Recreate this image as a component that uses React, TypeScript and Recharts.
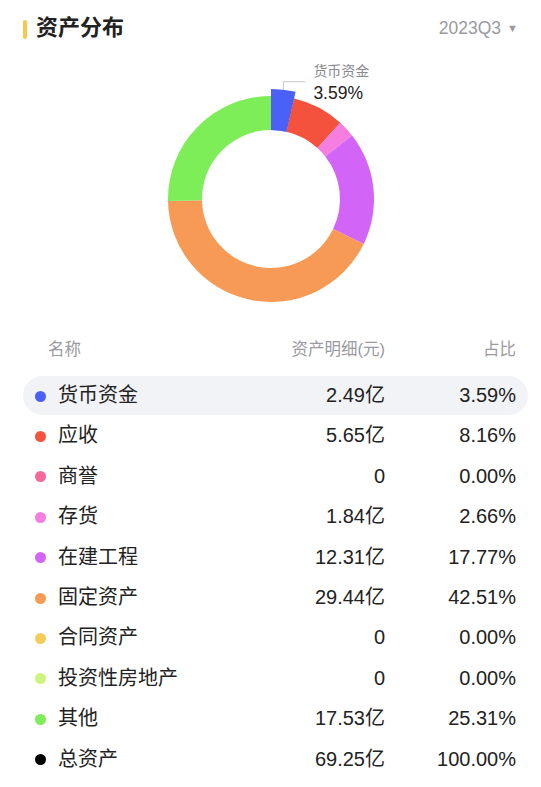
import React from 'react';
import { PieChart, Pie, Cell } from 'recharts';

const names = ['货币资金', '应收', '商誉', '存货', '在建工程', '固定资产', '合同资产', '投资性房地产', '其他', '总资产'];
const amounts = ['2.49亿', '5.65亿', '0', '1.84亿', '12.31亿', '29.44亿', '0', '0', '17.53亿', '69.25亿'];
const percents = [3.59, 8.16, 0, 2.66, 17.77, 42.51, 0, 0, 25.31, 100];
const colors = ['#4b60f7', '#f5523e', '#f5679a', '#f57ee0', '#d264f7', '#f79a55', '#f5cc5a', '#cdf57d', '#7ded58', '#000000'];

const quarter = '2023Q3';
const title = '资产分布';
const headers = ['名称', '资产明细(元)', '占比'];

const watermarks = [
  [410, 110], [80, 140], [330, 170], [400, 270], [90, 300],
  [190, 410], [460, 430], [80, 530], [300, 620], [470, 610], [390, 700], [160, 700],
];

const FONT = '"Liberation Sans", "Noto Sans CJK SC", sans-serif';

// slices of the donut: every asset except the total, zero ones dropped
const pieData = names
  .map((name, i) => ({ name, value: percents[i], color: colors[i], idx: i }))
  .filter((d) => d.idx < names.length - 1 && d.value > 0);

function BlueLabel(props: any) {
  const { cx, cy, midAngle, outerRadius, index } = props;
  if (index !== 0) return null;
  const rad = (Math.PI / 180) * midAngle;
  const x0 = cx + outerRadius * Math.cos(rad);
  const y0 = cy - outerRadius * Math.sin(rad);
  const y1 = y0 - 8;
  const x2 = x0 + 22;
  return (
    <g>
      <polyline points={`${x0},${y0} ${x0},${y1} ${x2},${y1}`} fill="none" stroke="#c8c8cc" strokeWidth={1} />
      <text x={x2 + 8} y={y1 - 6} fill="#8a8a8f" fontSize={14} fontFamily={FONT}>
        {names[0]}
      </text>
      <text x={x2 + 8} y={y1 + 17} fill="#222" fontSize={17.5} fontFamily={FONT}>
        {percents[0].toFixed(2)}%
      </text>
    </g>
  );
}

const ROW_TOP = 376;
const ROW_H = 40.4;

export default function App() {
  return (
    <div style={{ position: 'absolute', left: 0, top: 0, width: 541, height: 787, background: '#fff', fontFamily: FONT, overflow: 'hidden' }}>
      {/* header */}
      <div style={{ position: 'absolute', left: 23, top: 20, width: 3.5, height: 18.5, background: '#f7c94a', borderRadius: 2 }} />
      <div style={{ position: 'absolute', left: 36, top: 14, fontSize: 22, fontWeight: 600, color: '#222', lineHeight: '28px' }}>{title}</div>
      <div style={{ position: 'absolute', right: 23, top: 17, fontSize: 17.5, color: '#9a9aa0', lineHeight: '22px' }}>
        {quarter}
        <span style={{ fontSize: 11, marginLeft: 6, position: 'relative', top: -2 }}>▼</span>
      </div>

      <div style={{ position: 'absolute', left: 0, top: 0 }}>
        <PieChart width={541} height={320} margin={{ top: 0, right: 0, bottom: 0, left: 0 }}>
          <Pie
            data={pieData}
            dataKey="value"
            cx={271}
            cy={199}
            innerRadius={69}
            outerRadius={103}
            startAngle={90}
            endAngle={-270}
            stroke="none"
            isAnimationActive={false}
          >
            {pieData.map((d) => (
              <Cell key={d.name} fill={d.color} />
            ))}
          </Pie>
          <Pie
            data={pieData}
            dataKey="value"
            cx={271}
            cy={199}
            innerRadius={69}
            outerRadius={110}
            startAngle={90}
            endAngle={-270}
            stroke="none"
            label={BlueLabel}
            labelLine={false}
            isAnimationActive={false}
          >
            {pieData.map((d, i) => (
              <Cell key={d.name} fill={i === 0 ? d.color : 'transparent'} />
            ))}
          </Pie>
        </PieChart>
      </div>

      {/* table */}
      <div style={{ position: 'absolute', left: 48, top: 338, fontSize: 16.5, color: '#9a9aa0', lineHeight: '22px' }}>{headers[0]}</div>
      <div style={{ position: 'absolute', right: 541 - 385, top: 338, fontSize: 16.5, color: '#9a9aa0', lineHeight: '22px' }}>{headers[1]}</div>
      <div style={{ position: 'absolute', right: 541 - 516, top: 338, fontSize: 16.5, color: '#9a9aa0', lineHeight: '22px' }}>{headers[2]}</div>

      <div style={{ position: 'absolute', left: 23, top: ROW_TOP, width: 505, height: 39, background: '#f2f3f7', borderRadius: 20 }} />

      {names.map((name, i) => {
        const top = ROW_TOP + i * ROW_H;
        return (
          <div key={name} style={{ position: 'absolute', left: 0, top, width: 541, height: ROW_H, color: '#222', fontSize: 20 }}>
            <div style={{ position: 'absolute', left: 34.5, top: 14.5, width: 11, height: 11, borderRadius: 6, background: colors[i] }} />
            <div style={{ position: 'absolute', left: 58, top: 6, lineHeight: '27px' }}>{name}</div>
            <div style={{ position: 'absolute', right: 541 - 385, top: 6, lineHeight: '27px' }}>{amounts[i]}</div>
            <div style={{ position: 'absolute', right: 541 - 516, top: 6, lineHeight: '27px' }}>{percents[i].toFixed(2)}%</div>
          </div>
        );
      })}

      {/* watermark */}
      <svg width={541} height={787} style={{ position: 'absolute', left: 0, top: 0, pointerEvents: 'none' }}>
        {watermarks.map(([x, y], i) => (
          <text
            key={i}
            x={x}
            y={y}
            transform={`rotate(-42 ${x} ${y})`}
            textAnchor="middle"
            fontSize={34}
            fontFamily='"Noto Sans CJK SC"'
            fill="#000"
            fillOpacity={0.022}
          >
            市值风云
          </text>
        ))}
      </svg>
    </div>
  );
}
